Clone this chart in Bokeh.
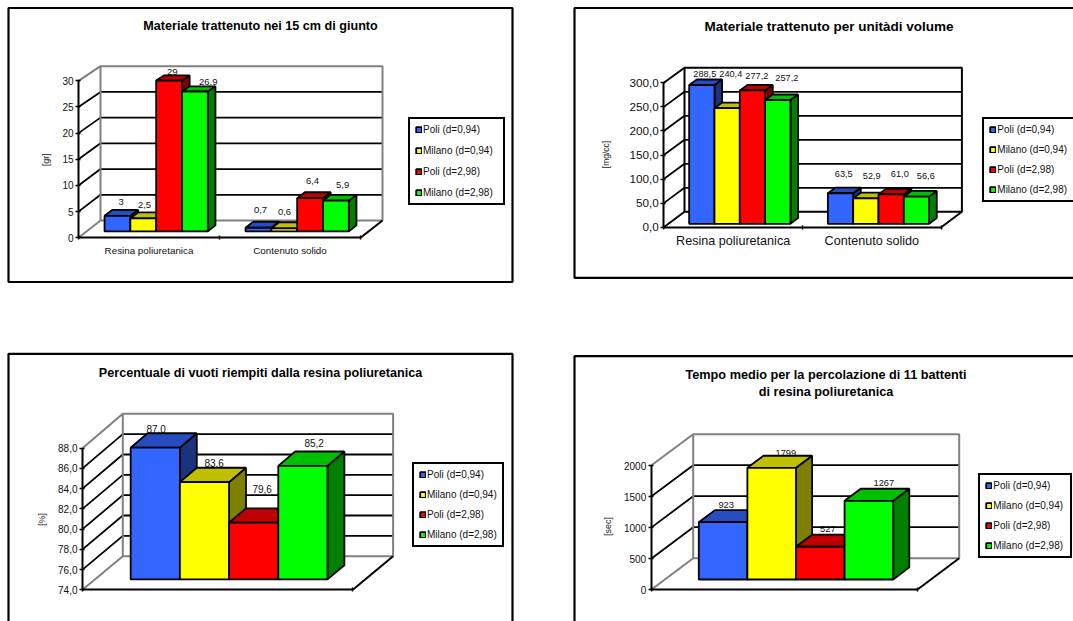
from bokeh.embed import file_html
from bokeh.resources import INLINE
from bokeh.plotting import figure
from bokeh.layouts import column, row
from bokeh.core.properties import value
from bokeh.models import (ColumnDataSource, FixedTicker, Legend, LegendItem,
                          LinearAxis, Range1d)
import math

FONT = "Liberation Sans"

SERIES = ["Poli (d=0,94)", "Milano (d=0,94)", "Poli (d=2,98)", "Milano (d=2,98)"]
FRONT = ["#3366FF", "#FFFF00", "#FF0000", "#00FF00"]
TOP = ["#264CBF", "#BFBF00", "#BF0000", "#00BF00"]
SIDE = ["#1A337F", "#7F7F00", "#7F0000", "#007F00"]

# Materials held back in the 15 cm joint
MASS_CATEGORIES = ["Resina poliuretanica", "Contenuto solido"]
MASS_VALUES = [[3, 0.7], [2.5, 0.6], [29, 6.4], [26.9, 5.9]]
MASS_TICKS = [0, 5, 10, 15, 20, 25, 30]

# Materials held back per unit of volume
VOLUME_CATEGORIES = ["Resina poliuretanica", "Contenuto solido"]
VOLUME_VALUES = [[288.5, 63.5], [240.4, 52.9], [277.2, 61.0], [257.2, 56.6]]
VOLUME_TICKS = [0, 50, 100, 150, 200, 250, 300]

# Share of voids filled by the resin
VOIDS_VALUES = [[87.0], [83.6], [79.6], [85.2]]
VOIDS_TICKS = [74, 76, 78, 80, 82, 84, 86, 88]

# Mean percolation time
TIME_VALUES = [[923], [1799], [527], [1267]]
TIME_TICKS = [0, 500, 1000, 1500, 2000]


def comma(v, decimals):
    return f"{v:.{decimals}f}".replace(".", ",")


def general(v):
    return str(v).replace(".", ",")


def draw_panel(cfg):
    """One boxed 3D column chart; cfg holds its window-pixel layout."""
    ox, oy, w, h = cfg["origin"][0], cfg["origin"][1], cfg["size"][0], cfg["size"][1]
    x0, y0, catw = cfg["x0"], cfg["y0"], cfg["catw"]
    ticks = cfg["ticks"]
    vmin, vtop = ticks[0], ticks[-1]
    scale = (y0 - cfg["ytop"]) / (vtop - vmin)
    scale_b = (cfg["yb0"] - cfg["ybtop"]) / (vtop - vmin)
    dx = cfg["xb0"] - x0
    dy = y0 - cfg["yb0"]

    px = lambda x: (x - x0) / catw
    py = lambda y: vmin + (y0 - y) / scale

    p = figure(width=w, height=h, output_backend="svg", toolbar_location=None,
               x_range=Range1d(px(ox), px(ox + w)), y_range=Range1d(py(oy + h), py(oy)),
               x_axis_location=None, y_axis_location=None, min_border=0,
               outline_line_color=None, background_fill_color="white",
               border_fill_color="white")
    p.grid.visible = False

    def proj(cat, v, d):
        """Front-plane data coordinates of a point at depth d (0 front, 1 back)."""
        factor = 1 + (scale_b / scale - 1) * d
        return cat + dx * d / catw, vmin + dy * d / scale + (v - vmin) * factor

    ncat = len(cfg["values"][0])

    # panel frame
    b = cfg["box"]
    p.quad(left=[px(b[0])], right=[px(b[2])], top=[py(b[1])], bottom=[py(b[3])],
           fill_color=None, line_color="black", line_width=2.2)

    # title
    for line, yy in cfg["title"]:
        p.text(x=[px(cfg["title_x"])], y=[py(yy)], text=[line], text_align="center",
               text_baseline="middle", text_font=value(FONT), text_font_style="bold",
               text_font_size=cfg["title_size"], text_color="black")

    # rotated axis caption
    p.text(x=[px(cfg["unit_pos"][0])], y=[py(cfg["unit_pos"][1])], text=[cfg["unit"]],
           angle=math.pi / 2, text_align="center", text_baseline="middle",
           text_font=value(FONT), text_font_size=cfg["unit_size"], text_color="#222222")

    # gridlines on the back wall and the left wall
    for t in ticks[1:-1]:
        bx, by = proj(0, t, 1)
        ex, ey = proj(ncat, t, 1)
        fx, fy = proj(0, t, 0)
        p.line([fx, bx, ex], [fy, by, ey], line_color="black", line_width=1.8)

    # wall outline, with the floor's front and right edges in black
    wall = cfg["wall"]
    corners = [proj(0, vmin, 0), proj(0, vmin, 1), proj(ncat, vmin, 1), proj(ncat, vtop, 1),
               proj(0, vtop, 1), proj(0, vtop, 0)]
    p.line([c[0] for c in corners], [c[1] for c in corners], line_color=wall, line_width=2)
    bx, by = proj(0, vmin, 1)
    tx, ty = proj(0, vtop, 1)
    p.line([bx, tx], [by, ty], line_color=wall, line_width=2)
    rx, ry = proj(ncat, vmin, 1)
    fx, fy = proj(ncat, vmin, 0)
    p.line([rx, fx], [ry, fy], line_color="black", line_width=2)

    d1, d2 = cfg["depth"]
    gap, bw = cfg["gap"], cfg["bw"]

    # value labels sit behind the columns
    lx, ly, lt, lox, loy = [], [], [], [], []
    flat_nudges = iter(cfg["nudges"])
    for s, vals in enumerate(cfg["values"]):
        for c, v in enumerate(vals):
            ax, ay = proj(c + gap + (s + 0.5) * bw, v, d2)
            lx.append(ax)
            ly.append(ay)
            lt.append(cfg["fmt"](v))
            n = next(flat_nudges)
            lox.append(n[0])
            loy.append(n[1])
    p.text(x="x", y="y", text="t", x_offset="ox", y_offset="oy",
           source=ColumnDataSource(dict(x=lx, y=ly, t=lt, ox=lox, oy=loy)),
           text_align="center", text_baseline="middle", text_font=value(FONT),
           text_font_size=cfg["label_size"], text_color="#111111")

    # columns, left to right so each front hides its neighbour's side
    items = []
    for s, vals in enumerate(cfg["values"]):
        sx, sy, tx, ty, fx, fy = [], [], [], [], [], []
        for c, v in enumerate(vals):
            a = c + gap + s * bw
            e = a + bw
            q = [proj(e, vmin, d1), proj(e, vmin, d2), proj(e, v, d2), proj(e, v, d1)]
            sx.append([k[0] for k in q])
            sy.append([k[1] for k in q])
            q = [proj(a, v, d1), proj(a, v, d2), proj(e, v, d2), proj(e, v, d1)]
            tx.append([k[0] for k in q])
            ty.append([k[1] for k in q])
            q = [proj(a, vmin, d1), proj(a, v, d1), proj(e, v, d1), proj(e, vmin, d1)]
            fx.append([k[0] for k in q])
            fy.append([k[1] for k in q])
        p.patches(sx, sy, fill_color=SIDE[s], line_color="black", line_width=1.8)
        p.patches(tx, ty, fill_color=TOP[s], line_color="black", line_width=1.8)
        r = p.patches(fx, fy, fill_color=FRONT[s], line_color="black", line_width=1.8)
        items.append(LegendItem(label=value(SERIES[s]), renderers=[r]))

    # value axis on the front-left edge
    yaxis = LinearAxis(ticker=FixedTicker(ticks=ticks), bounds=(vmin, vtop), fixed_location=0,
                       major_label_overrides={t: cfg["tick_fmt"](t) for t in ticks},
                       major_tick_in=2, major_tick_out=3, minor_tick_line_color=None,
                       axis_line_color="black", axis_line_width=2, major_tick_line_color="black",
                       major_tick_line_width=1.5, major_label_standoff=2,
                       major_label_text_font=FONT, major_label_text_color="#111111",
                       major_label_text_font_size=cfg["tick_size"])
    p.add_layout(yaxis, "left")

    # floor front edge: boundaries between categories are unlabelled minor ticks
    xaxis = LinearAxis(ticker=FixedTicker(ticks=[], minor_ticks=list(range(ncat + 1))),
                       bounds=(0, ncat), fixed_location=vmin,
                       minor_tick_in=2, minor_tick_out=2, major_tick_line_color=None,
                       axis_line_color="black", axis_line_width=2,
                       minor_tick_line_color="black", minor_tick_line_width=1.5)
    p.add_layout(xaxis, "below")

    if cfg.get("categories"):
        centers = [i + 0.5 for i in range(ncat)]
        cat_axis = LinearAxis(ticker=FixedTicker(ticks=centers), fixed_location=vmin,
                              major_label_overrides=dict(zip(centers, cfg["categories"])),
                              major_tick_line_color=None, minor_tick_line_color=None,
                              axis_line_color=None, major_label_standoff=cfg["cat_standoff"],
                              major_label_text_font=FONT, major_label_text_color="#111111",
                              major_label_text_font_size=cfg["cat_size"])
        p.add_layout(cat_axis, "below")

    lb = cfg["legend"]
    legend = Legend(items=items, location=(lb["left"] - ox, oy + h - lb["bottom"]),
                    orientation="vertical", border_line_color="black", border_line_width=2,
                    border_line_alpha=1.0,
                    background_fill_color="white", background_fill_alpha=1.0,
                    glyph_width=7, glyph_height=7, label_standoff=1, margin=0,
                    padding=lb["padding"], spacing=lb["spacing"], label_height=8,
                    label_width=lb["label_width"], label_text_font=FONT,
                    label_text_font_size="10px", label_text_color="#111111")
    p.add_layout(legend, "center")
    return p


panels = [
    dict(origin=(0, 0), size=(537, 315), box=(8, 7.5, 512, 281.5), values=MASS_VALUES,
         categories=MASS_CATEGORIES, ticks=MASS_TICKS, fmt=general, tick_fmt=lambda t: str(t),
         x0=78, y0=237.3, ytop=80.3, catw=141, xb0=100, yb0=220, ybtop=65.7, wall="#808080",
         depth=(0.37, 0.72), gap=0.127, bw=0.183, title_x=260, title_size="12.6px",
         title=[("Materiale trattenuto nei 15 cm di giunto", 25)],
         unit="[gr]", unit_pos=(45.7, 159.3), unit_size="9px", tick_size="10px",
         label_size="9.5px", cat_size="9.8px", cat_standoff=1,
         nudges=[(-3.9, -7.6), (-5.6, -11.9), (-6.4, -7.9), (-7.4, -10),
                 (-4.5, -3.2), (-5.2, -11.7), (5.7, -4.1), (-1, -10.3)],
         legend=dict(left=408, bottom=205, padding=5, spacing=10, label_width=75)),
    dict(origin=(537, 0), size=(536, 315), box=(574, 7.5, 1090, 277.3), values=VOLUME_VALUES,
         categories=VOLUME_CATEGORIES, ticks=VOLUME_TICKS, fmt=lambda v: comma(v, 1),
         tick_fmt=lambda t: comma(t, 1),
         x0=663.3, y0=226.7, ytop=82.3, catw=138.7, xb0=684, yb0=211.3, ybtop=67.3, wall="black",
         depth=(0.22, 0.59), gap=0.15, bw=0.1825, title_x=828.5, title_size="13.5px",
         title=[("Materiale trattenuto per unitàdi volume", 26)],
         unit="[mg/cc]", unit_pos=(605.7, 154), unit_size="8.5px", tick_size="11.7px",
         label_size="9.2px", cat_size="12.6px", cat_standoff=1,
         nudges=[(-4.7, -5), (-4.4, -13.4), (-4, -28.1), (-1.7, -16.5),
                 (-3.3, -8.7), (1, -14.6), (1.4, -16.3), (1.7, -14.7)],
         legend=dict(left=982.3, bottom=201.7, padding=5, spacing=9, label_width=110)),
    dict(origin=(0, 315), size=(537, 306), box=(8, 353.3, 512, 640), values=VOIDS_VALUES,
         categories=None, ticks=VOIDS_TICKS, fmt=lambda v: comma(v, 1),
         tick_fmt=lambda t: comma(t, 1),
         x0=82, y0=589.3, ytop=447.7, catw=270.3, xb0=122.3, yb0=555.7, ybtop=413.3, wall="#808080",
         depth=(0.31, 0.73), gap=0.132, bw=0.182, title_x=260, title_size="12.6px",
         title=[("Percentuale di vuoti riempiti dalla resina poliuretanica", 372)],
         unit="[%]", unit_pos=(41, 519), unit_size="9px", tick_size="10px",
         label_size="10px",
         nudges=[(-16, -4.1), (-7.2, -4.6), (-8.4, -19.2), (-5.6, -8.4)],
         legend=dict(left=412, bottom=547.3, padding=5, spacing=9, label_width=70)),
    dict(origin=(537, 315), size=(536, 306), box=(574, 355.7, 1090, 640), values=TIME_VALUES,
         categories=None, ticks=TIME_TICKS, fmt=general, tick_fmt=lambda t: str(t),
         x0=650.7, y0=589.3, ytop=465, catw=266, xb0=692.7, yb0=557.7, ybtop=433.7, wall="#808080",
         depth=(0.326, 0.71), gap=0.1274, bw=0.1827, title_x=825.5, title_size="12.7px",
         title=[("Tempo medio per la percolazione di 11 battenti", 374),
                ("di resina poliuretanica", 391.7)],
         unit="[sec]", unit_pos=(607.7, 526), unit_size="9px", tick_size="10px",
         label_size="9.3px",
         nudges=[(-13, -4.9), (-2, -2.5), (-8.6, -5.2), (-1.2, -5.5)],
         legend=dict(left=978.3, bottom=557.7, padding=5, spacing=9, label_width=72)),
]

figs = [draw_panel(c) for c in panels]
layout = column(row(figs[0], figs[1], spacing=0), row(figs[2], figs[3], spacing=0), spacing=0)
open("out.html", "w").write(file_html(layout, INLINE))
